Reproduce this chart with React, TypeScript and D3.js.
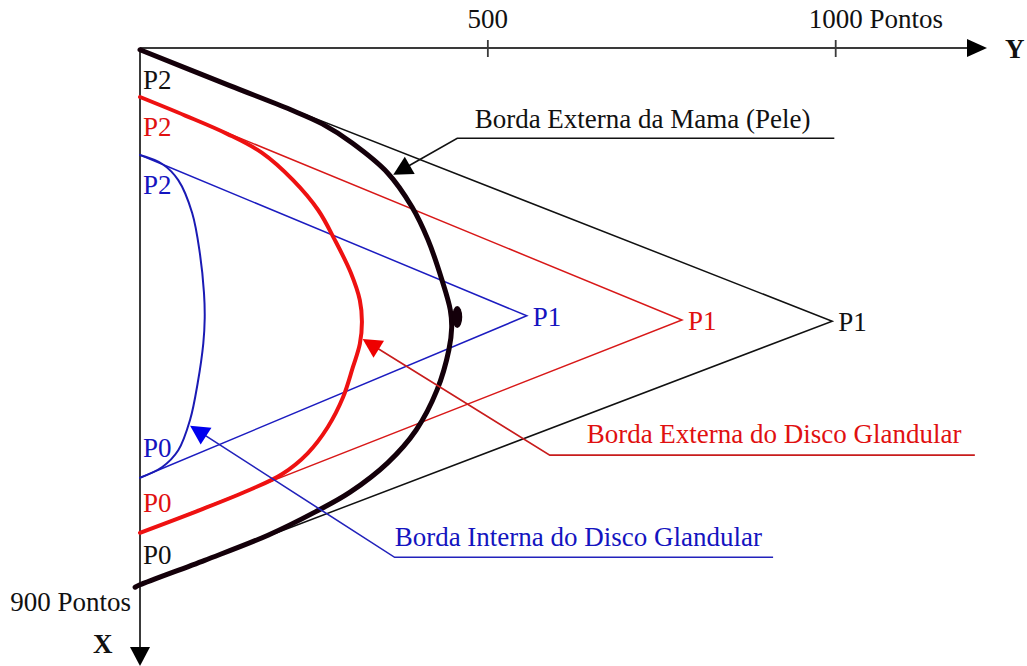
import React from 'react';
import * as d3 from 'd3';

// Points are [X, Y] in "Pontos": X grows downward, Y grows to the right.
type Pt = [number, number];

// Outer border of the breast (skin)
const skinCurve: Pt[] = [
  [3, 0], [63, 129], [103, 216], [127, 262], [159, 305], [209, 356], [266, 391],
  [321, 414], [388, 434], [438, 446], [468, 448], [505, 444], [572, 427],
  [639, 397], [694, 356], [743, 302], [776, 252], [815, 184], [857, 93],
  [898, 0], [902, -7],
];
// Outer border of the glandular disc
const outerGlandCurve: Pt[] = [
  [82, 0], [113, 65], [144, 126], [175, 175], [221, 220], [271, 256], [321, 280],
  [376, 303], [422, 316], [458, 319], [495, 316], [534, 306], [584, 292],
  [634, 270], [678, 241], [713, 204], [739, 158], [773, 86], [811, 0],
];
// Inner border of the glandular disc
const innerGlandCurve: Pt[] = [
  [179, 0], [194, 32], [221, 55], [276, 75], [343, 86], [410, 92], [452, 93],
  [494, 91], [560, 83], [622, 72], [673, 55], [701, 32], [719, 0],
];

// Control points P0, P1, P2 of each border
const skinControl: Pt[] = [[898, 0], [457, 995], [3, 0]];
const outerGlandControl: Pt[] = [[811, 0], [455, 779], [82, 0]];
const innerGlandControl: Pt[] = [[719, 0], [448, 556], [179, 0]];
const controlNames = ['P0', 'P1', 'P2'];

// Small ink blot on the skin border
const skinBlot: Pt = [450, 456];

// Axis ticks
const yTicks = [500, 1000];
const yTickLabels = ['500', '1000 Pontos'];
const xTicks = [900];
const xTickLabels = ['900 Pontos'];

// Callouts: arrow tip, elbow, end of underline (Y), text start (Y)
const calloutTexts = [
  'Borda Externa da Mama (Pele)',
  'Borda Externa do Disco Glandular',
  'Borda Interna do Disco Glandular',
];
const calloutTips: Pt[] = [[212, 364], [487, 320], [632, 72]];
const calloutElbows: Pt[] = [[151, 456], [681, 589], [852, 366]];
const calloutEnds = [998, 1200, 910];
const calloutTextStarts = [481, 642, 366];

const FONT = "'Liberation Serif', 'Times New Roman', serif";
const FS = 27;

export default function App() {
  const W = 1027;
  const H = 666;
  const yScale = d3.scaleLinear().domain([0, 1000]).range([140, 835.7]);
  const xScale = d3.scaleLinear().domain([0, 900]).range([48, 586]);
  const px = (p: Pt) => yScale(p[1]);
  const py = (p: Pt) => xScale(p[0]);
  const smooth = d3.line<Pt>().x(px).y(py).curve(d3.curveCatmullRom.alpha(0.5));
  const straight = d3.line<Pt>().x(px).y(py);

  const series = [
    {
      curve: skinCurve, control: skinControl,
      curveColor: '#14000a', curveWidth: 5, lineColor: '#111111', labelColor: '#111111',
    },
    {
      curve: outerGlandCurve, control: outerGlandControl,
      curveColor: '#ee1111', curveWidth: 4, lineColor: '#d81818', labelColor: '#e01010',
    },
    {
      curve: innerGlandCurve, control: innerGlandControl,
      curveColor: '#1a1ab4', curveWidth: 2, lineColor: '#1c1cc0', labelColor: '#1414c0',
    },
  ];

  const calloutStyles = [
    { line: '#111111', text: '#111111', head: '#000000', dy: -10 },
    { line: '#c81c1c', text: '#e01010', head: '#ee0000', dy: -12 },
    { line: '#2222bb', text: '#1414c0', head: '#0000ee', dy: -11 },
  ];

  const axisColor = '#3a3a3a';
  const x0 = yScale(0);
  const y0 = xScale(0);

  const arrowHead = (tip: [number, number], from: [number, number], len: number, half: number) => {
    const dx = tip[0] - from[0];
    const dy = tip[1] - from[1];
    const d = Math.hypot(dx, dy);
    const ux = dx / d;
    const uy = dy / d;
    const bx = tip[0] - ux * len;
    const by = tip[1] - uy * len;
    return `${tip[0]},${tip[1]} ${bx - uy * half},${by + ux * half} ${bx + uy * half},${by - ux * half}`;
  };

  return (
    <svg
      width={W}
      height={H}
      viewBox={`0 0 ${W} ${H}`}
      style={{ position: 'absolute', left: 0, top: 0, background: '#ffffff' }}
      fontFamily={FONT}
    >
      <rect x={0} y={0} width={W} height={H} fill="#ffffff" />

      {/* Y axis (horizontal) */}
      <line x1={x0} y1={y0} x2={970} y2={y0} stroke={axisColor} strokeWidth={2} />
      <polygon points={`${967},${y0 - 9} ${987},${y0} ${967},${y0 + 9}`} fill="#000" />
      <text x={1005} y={58} fontSize={FS} fontWeight="bold" fill="#111">Y</text>
      {yTicks.map((t, i) => {
        const x = yScale(t);
        const num = yTickLabels[i].split(' ')[0];
        return (
          <g key={`yt${i}`}>
            <line x1={x} y1={y0 - 8} x2={x} y2={y0 + 9} stroke={axisColor} strokeWidth={1.8} />
            <text x={x - (num.length * 0.5 * FS) / 2} y={28} fontSize={FS} fill="#111">
              {yTickLabels[i]}
            </text>
          </g>
        );
      })}

      {/* X axis (vertical) */}
      <line x1={x0} y1={y0} x2={x0} y2={650} stroke={axisColor} strokeWidth={2} />
      <polygon points={`${x0 - 10},${647} ${x0},${666} ${x0 + 10},${647}`} fill="#000" />
      <text x={93} y={653} fontSize={FS} fontWeight="bold" fill="#111">X</text>
      {xTicks.map((t, i) => {
        const y = xScale(t);
        return (
          <g key={`xt${i}`}>
            <line x1={x0 - 6} y1={y} x2={x0} y2={y} stroke={axisColor} strokeWidth={1.5} />
            <text x={131} y={y + 25} fontSize={FS} textAnchor="end" fill="#111">
              {xTickLabels[i]}
            </text>
          </g>
        );
      })}

      {/* Control polygons */}
      {series.map((s, i) => (
        <path key={`poly${i}`} d={straight(s.control) || ''} fill="none" stroke={s.lineColor} strokeWidth={1.5} />
      ))}

      {/* Borders */}
      {series.map((s, i) => (
        <path
          key={`curve${i}`}
          d={smooth(s.curve) || ''}
          fill="none"
          stroke={s.curveColor}
          strokeWidth={s.curveWidth}
          strokeLinecap="round"
          strokeLinejoin="round"
        />
      ))}
      <ellipse cx={px(skinBlot)} cy={py(skinBlot)} rx={5} ry={11} fill="#14000a" />

      {/* Control point labels */}
      {series.map((s, i) =>
        s.control.map((c, j) => {
          const name = controlNames[j];
          let x = px(c) + 3;
          let y = py(c);
          if (name === 'P2') y += 39;
          else if (name === 'P0') y -= 21;
          else {
            x = px(c) + 6;
            y += 10;
          }
          return (
            <text key={`lab${i}${j}`} x={x} y={y} fontSize={FS} fill={s.labelColor}>
              {name}
            </text>
          );
        })
      )}

      {/* Callouts */}
      {calloutTexts.map((txt, i) => {
        const st = calloutStyles[i];
        const tip: [number, number] = [px(calloutTips[i]), py(calloutTips[i])];
        const elbow: [number, number] = [px(calloutElbows[i]), py(calloutElbows[i])];
        const endX = yScale(calloutEnds[i]);
        const ux = elbow[0] - tip[0];
        const uy = elbow[1] - tip[1];
        const d = Math.hypot(ux, uy);
        const lineStart: [number, number] = [tip[0] + (ux / d) * 16, tip[1] + (uy / d) * 16];
        return (
          <g key={`co${i}`}>
            <polyline
              points={`${lineStart[0]},${lineStart[1]} ${elbow[0]},${elbow[1]} ${endX},${elbow[1]}`}
              fill="none"
              stroke={st.line}
              strokeWidth={1.6}
            />
            <polygon points={arrowHead(tip, elbow, 19, 10)} fill={st.head} />
            <text x={yScale(calloutTextStarts[i])} y={elbow[1] + st.dy} fontSize={FS} fill={st.text}>
              {txt}
            </text>
          </g>
        );
      })}
    </svg>
  );
}
